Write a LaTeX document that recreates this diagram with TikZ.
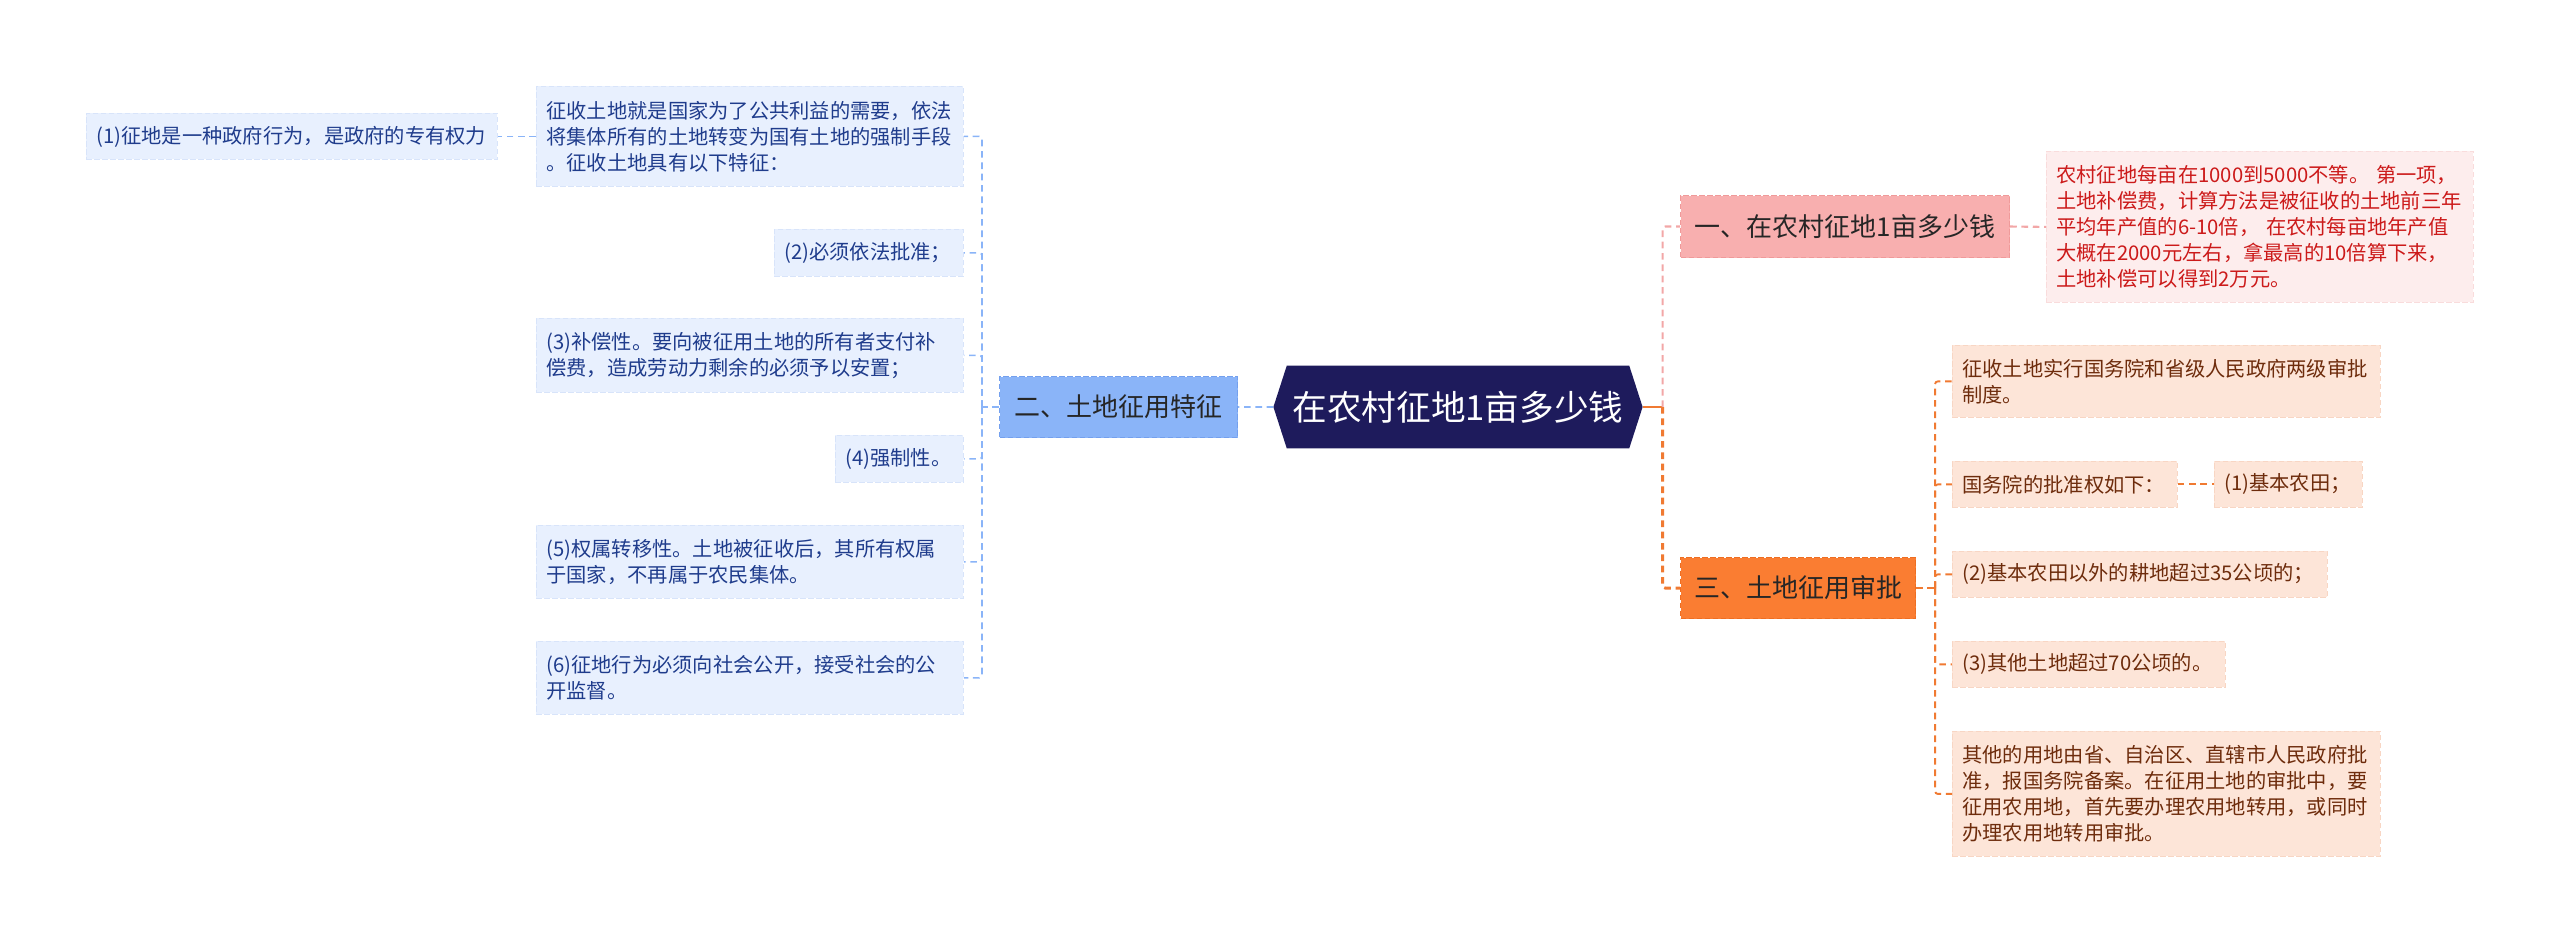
\documentclass[tikz,border=0pt]{standalone}
\usepackage{fontspec}
\setmainfont{Noto Sans CJK SC}
\usetikzlibrary{backgrounds}
\definecolor{navy}{HTML}{1E1B5C}
\definecolor{bfill}{HTML}{8AB4F8}
\definecolor{bedge}{HTML}{74A0EE}
\definecolor{bleaf}{HTML}{E8F0FE}
\definecolor{bleafedge}{HTML}{D8E4FA}
\definecolor{btext}{HTML}{1F3C8C}
\definecolor{blinec}{HTML}{8AB4F8}
\definecolor{pfill}{HTML}{F8AFAF}
\definecolor{pedge}{HTML}{F09A9A}
\definecolor{pleaf}{HTML}{FDEDED}
\definecolor{pleafedge}{HTML}{F9DCDC}
\definecolor{ptext}{HTML}{CC1A1A}
\definecolor{plinec}{HTML}{F2A7A7}
\definecolor{ofill}{HTML}{FA7D32}
\definecolor{oedge}{HTML}{EE6E22}
\definecolor{oleaf}{HTML}{FDE5D8}
\definecolor{oleafedge}{HTML}{F8D6C4}
\definecolor{otext}{HTML}{6E2C0C}
\definecolor{olinec}{HTML}{F07A32}
\newcommand\bxnode[7]{%
 \pgfmathsetlengthmacro\bxw{(#5-#3)*0.75pt}%
 \pgfmathsetlengthmacro\bxh{(#6-#4)*0.75pt}%
 \pgfmathsetlengthmacro\bxt{(#5-#3-20)*0.75pt}%
 \node[#2, anchor=north west, minimum width=\bxw, minimum height=\bxh, text width=\bxt] (#1) at (#3,#4) {#7};}
\tikzset{
 leaf/.style={inner xsep=7.5pt, inner ysep=0pt, align=left, font=\fontsize{15.2}{19.5}\selectfont, dash pattern=on 4pt off 2pt, line width=0.6pt},
 bl/.style={leaf, fill=bleaf, draw=bleafedge, text=btext},
 pl/.style={leaf, fill=pleaf, draw=pleafedge, text=ptext},
 ol/.style={leaf, fill=oleaf, draw=oleafedge, text=otext},
 branch/.style={inner xsep=7.5pt, inner ysep=0pt, align=center, font=\fontsize{19.5}{23}\selectfont, text=black!85, dash pattern=on 4pt off 2pt, line width=0.8pt},
 bbr/.style={branch, fill=bfill, draw=bedge},
 pbr/.style={branch, fill=pfill, draw=pedge},
 obr/.style={branch, fill=ofill, draw=oedge},
 bcon/.style={draw=blinec, line width=1.2pt, dash pattern=on 5pt off 3.5pt, rounded corners=2pt},
 pcon/.style={draw=plinec, line width=1.6pt, dash pattern=on 5pt off 3.5pt, rounded corners=2pt},
 ocon/.style={draw=olinec, line width=1.4pt, dash pattern=on 5pt off 3.5pt, rounded corners=2pt},
 otrunk/.style={draw=olinec, line width=2.2pt, dash pattern=on 5pt off 3.5pt, rounded corners=2pt},
}
\begin{document}
\begin{tikzpicture}[x=0.75pt,y=-0.75pt]
\useasboundingbox (0,0) rectangle (2560,943);
% root
\node[inner sep=0pt, minimum width=256.5pt, minimum height=61.5pt, text=white, font=\fontsize{26}{30}\selectfont] (root) at (1458,407) {在农村征地1亩多少钱};
\coordinate (rootL) at ([xshift=-10pt]root.west);
\coordinate (rootR) at ([xshift=10pt]root.east);
\begin{scope}[on background layer]
\fill[navy] (root.north west) -- (root.north east) -- (rootR) -- (root.south east) -- (root.south west) -- (rootL) -- cycle;
\end{scope}
% blue branch
\bxnode{B}{bbr}{999}{376}{1237}{437}{二、土地征用特征}
\bxnode{b1}{bl}{86}{113}{497}{159}{(1)征地是一种政府行为，是政府的专有权力}
\bxnode{b0}{bl}{536}{86}{963}{186}{征收土地就是国家为了公共利益的需要，依法\\将集体所有的土地转变为国有土地的强制手段\\。征收土地具有以下特征：}
\bxnode{b2}{bl}{774}{229}{963}{276}{(2)必须依法批准；}
\bxnode{b3}{bl}{536}{318}{963}{392}{(3)补偿性。要向被征用土地的所有者支付补\\偿费，造成劳动力剩余的必须予以安置；}
\bxnode{b4}{bl}{835}{435}{963}{482}{(4)强制性。}
\bxnode{b5}{bl}{536}{525}{963}{598}{(5)权属转移性。土地被征收后，其所有权属\\于国家，不再属于农民集体。}
\bxnode{b6}{bl}{536}{641}{963}{714}{(6)征地行为必须向社会公开，接受社会的公\\开监督。}
% pink branch
\bxnode{P}{pbr}{1680}{195}{2009}{257}{一、在农村征地1亩多少钱}
\bxnode{p1}{pl}{2046}{151}{2473}{302}{农村征地每亩在1000到5000不等。 第一项，\\土地补偿费，计算方法是被征收的土地前三年\\平均年产值的6-10倍， 在农村每亩地年产值\\大概在2000元左右，拿最高的10倍算下来，\\土地补偿可以得到2万元。}
% orange branch
\bxnode{O}{obr}{1680}{557}{1915}{618}{三、土地征用审批}
\bxnode{o1}{ol}{1952}{345}{2380}{417}{征收土地实行国务院和省级人民政府两级审批\\制度。}
\bxnode{o2}{ol}{1952}{461}{2177}{507}{国务院的批准权如下：}
\bxnode{o2a}{ol}{2214}{461}{2362}{507}{(1)基本农田；}
\bxnode{o3}{ol}{1952}{551}{2327}{597}{(2)基本农田以外的耕地超过35公顷的；}
\bxnode{o4}{ol}{1952}{641}{2225}{687}{(3)其他土地超过70公顷的。}
\bxnode{o5}{ol}{1952}{731}{2380}{856}{其他的用地由省、自治区、直辖市人民政府批\\准，报国务院备案。在征用土地的审批中，要\\征用农用地，首先要办理农用地转用，或同时\\办理农用地转用审批。}
% connectors blue
\draw[bcon] (rootL) -- (B.east);
\coordinate (bt) at ([xshift=-12.75pt]B.west);
\draw[bcon] (B.west) -- (bt);
\foreach \n in {b0,b2,b3,b4,b5,b6} \draw[bcon] (bt) |- (\n.east);
\draw[bcon] (b0.west) -- (b1.east);
% connectors right
\coordinate (rt) at ([xshift=15pt]rootR);
\draw[draw=olinec, line width=2.2pt] (rootR) -- (rt);
\draw[pcon] (rt) |- (P.west);
\draw[pcon] (P.east) -- (p1.west);
\draw[otrunk] (rt) |- (O.west);
\coordinate (ot) at ([xshift=14.25pt]O.east);
\draw[ocon] (O.east) -- (ot);
\foreach \n in {o1,o2,o3,o4,o5} \draw[ocon] (ot) |- (\n.west);
\draw[ocon] (o2.east) -- (o2a.west);
\end{tikzpicture}
\end{document}
